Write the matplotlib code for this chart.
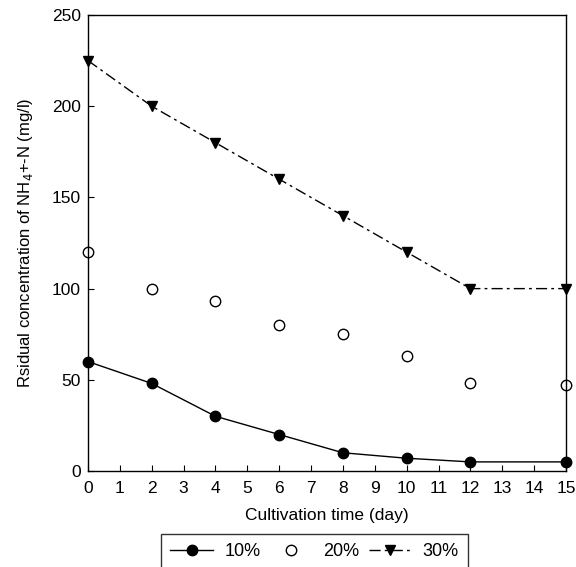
import matplotlib.pyplot as plt

plt.rcParams["font.family"] = ["Liberation Sans", "DejaVu Sans"]

days = [0, 2, 4, 6, 8, 10, 12, 15]
conc_10 = [60, 48, 30, 20, 10, 7, 5, 5]
conc_20 = [120, 100, 93, 80, 75, 63, 48, 47]
conc_30 = [225, 200, 180, 160, 140, 120, 100, 100]
x_ticks = list(range(0, 16))
y_ticks = [0, 50, 100, 150, 200, 250]


def main():
    fig = plt.figure(figsize=(5.76, 5.67), dpi=100)
    ax = fig.add_axes([0.1528, 0.1693, 0.8298, 0.8042])

    ax.plot(days, conc_10, color="black", linewidth=1.0, marker="o",
            markersize=7.5, label="10%", clip_on=False)
    ax.plot(days, conc_20, linestyle="none", marker="o", markersize=7.5,
            markerfacecolor="white", markeredgecolor="black",
            markeredgewidth=1.0, label="20%", clip_on=False)
    ax.plot(days, conc_30, color="black", linewidth=1.0, marker="v",
            markersize=7.5, dashes=(8, 3, 2, 3), label="30%", clip_on=False)

    ax.set_xlim(0, 15)
    ax.set_ylim(0, 250)
    ax.set_xticks(x_ticks)
    ax.set_yticks(y_ticks)
    ax.tick_params(direction="in", length=4, labelsize=12.5, width=0.8)
    ax.tick_params(axis="x", pad=7)
    ax.tick_params(axis="y", pad=5)
    ax.set_xlabel("Cultivation time (day)", fontsize=12.5, labelpad=9)
    ax.set_ylabel("Rsidual concentration of NH$_4$+-N (mg/l)", fontsize=12,
                  labelpad=12)
    for s in ax.spines.values():
        s.set_linewidth(1.0)

    fig.legend(loc="upper center", bbox_to_anchor=(0.546, 0.058), ncol=3,
               frameon=True, fancybox=False, edgecolor="black",
               fontsize=13, handlelength=2.4, handletextpad=0.6,
               columnspacing=0.5, borderpad=0.5, borderaxespad=0)

    fig.savefig("out.png", dpi=100)


if __name__ == "__main__":
    main()
